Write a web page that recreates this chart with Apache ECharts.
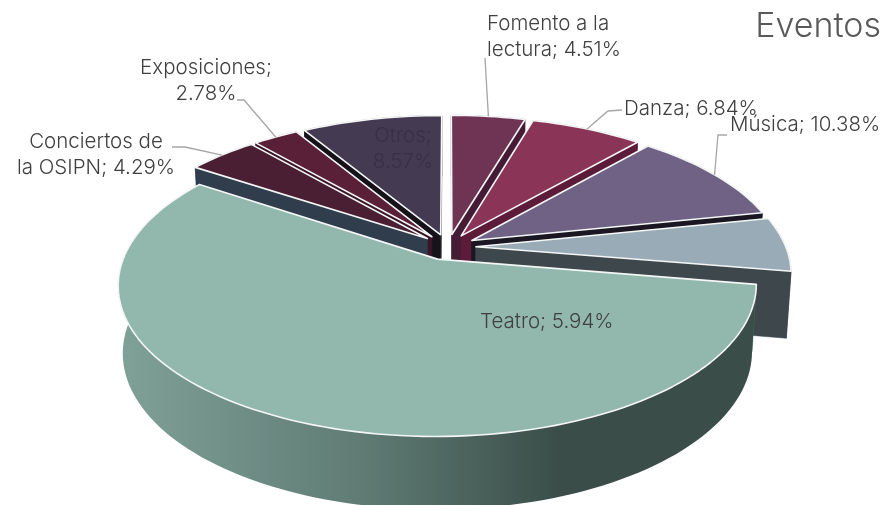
<!DOCTYPE html>
<html>
<head>
<meta charset="utf-8">
<style>html,body{margin:0;padding:0;background:#fff}#c{width:883px;height:505px}</style>
<script src="https://cdn.jsdelivr.net/npm/echarts@6/dist/echarts.min.js"></script>
</head>
<body>
<div id="c"></div>
<script>
// Data, clockwise from 12 o'clock
const categories = ['Fomento a la lectura','Danza','Música','Teatro','','Conciertos de la OSIPN','Exposiciones','Otros'];
const values     = [4.51, 6.84, 10.38, 5.94, 56.69, 4.29, 2.78, 8.57];
const topColors  = ['#6f3354','#8a3558','#6f6285','#9aabb8','#92b8ae','#4a1f33','#5a2037','#443a52'];
const wallColors = ['#451c36','#5c1b38','#1a1622','#3d474c','#4f6a63','#2f3d4d','#3a1526','#15121a'];
const paintOrder = [7,6,5,0,1,2,3,4];
const title = 'Eventos';

// Labels: text lines, placement and leader bend
const labelLines = {
  0: ['Fomento a la','lectura; 4.51%'],
  1: ['Danza; 6.84%'],
  2: ['Música; 10.38%'],
  3: ['Teatro; 5.94%'],
  5: ['Conciertos de','la OSIPN; 4.29%'],
  6: ['Exposiciones;','2.78%'],
  7: ['Otros;','8.57%']
};
const labelPlace = {
  0: {x:487, y:24, align:'left', fill:'#404040'},
  1: {x:624, y:109, align:'left', fill:'#404040'},
  2: {x:730, y:125, align:'left', fill:'#404040'},
  3: {x:480, y:322, align:'left', fill:'#404040'},
  5: {x:96,  y:142, align:'center', fill:'#404040'},
  6: {x:206, y:68,  align:'center', fill:'#404040'},
  7: {x:403, y:136, align:'center', fill:'#3a3046'}
};
const leaderBends = {
  0: [[485,58]],
  1: [[622,110],[608,111]],
  2: [[727,135],[718,135]],
  5: [[172,147],[185,147]],
  6: [[237,100],[244,100]]
};

// Projection of the tilted pie
const CX = 448, CY = 247, RX = 310, RY = 143, K = 0.168, EXPLODE = 0.09, DEPTH = 66, BASE_SCALE = 0.986;
const total = values.reduce((a,b)=>a+b,0);
function project(x, y, low) {
  const s = 1/(1+K*y);
  const px = RX*x*s, py = RY*y*s;
  if (!low) return [CX+px, CY-py];
  return [CX+px*BASE_SCALE, CY-py+DEPTH*Math.sqrt(s)];
}
function sliceGeom(i) {
  let before = 0; for (let j=0;j<i;j++) before += values[j];
  const a0 = before/total*2*Math.PI, a1 = (before+values[i])/total*2*Math.PI, am = (a0+a1)/2;
  const ox = Math.sin(am)*EXPLODE, oy = Math.cos(am)*EXPLODE;
  const n = Math.max(4, Math.ceil((a1-a0)/0.03));
  const top = [], low = [];
  for (let k=0;k<=n;k++){
    const a = a0+(a1-a0)*k/n;
    const x = ox+Math.sin(a), y = oy+Math.cos(a);
    top.push(project(x,y,false)); low.push(project(x,y,true));
  }
  return {top, low, apexT:project(ox,oy,false), apexL:project(ox,oy,true), am, ox, oy};
}
const bigWall = new echarts.graphic.LinearGradient(125,0,560,0,[
  {offset:0,color:'#7fa097'},{offset:.55,color:'#5f7b74'},{offset:1,color:'#3a4d49'}],true);

function renderItem(params, api) {
  const i = api.value(0);
  const g = sliceGeom(i);
  const wall = i===4 ? bigWall : wallColors[i];
  const last = g.top.length-1;
  const poly = (pts, fill, stroke, lw) => ({type:'polygon', shape:{points:pts}, style:{fill, stroke:stroke||fill, lineWidth:lw||0.5, lineJoin:'round'}});
  return {type:'group', children:[
    poly([g.apexT,g.top[0],g.low[0],g.apexL], wallColors[i]),
    poly([g.apexT,g.top[last],g.low[last],g.apexL], wallColors[i]),
    poly(g.top.concat(g.low.slice().reverse()), wall, i===4?'rgba(0,0,0,0)':wall),
    poly([g.apexT].concat(g.top), topColors[i], '#f4f6f6', 1.6)
  ]};
}

const FONT = 'Inter, "Noto Sans", sans-serif';
const graphics = [];
Object.keys(labelLines).forEach(k=>{
  const i = +k, p = labelPlace[i];
  labelLines[i].forEach((line,n)=>{
    graphics.push({type:'text', z:10, style:{text:line, x:p.x, y:p.y+n*25.5, textAlign:p.align, textVerticalAlign:'middle', font:'300 20.5px '+FONT, fill:p.fill}});
  });
  if (leaderBends[i]) {
    const g = sliceGeom(i);
    const mid = project(g.ox+Math.sin(g.am), g.oy+Math.cos(g.am), false);
    graphics.push({type:'polyline', z:9, shape:{points:leaderBends[i].concat([mid])}, style:{stroke:'#a6a6a6', lineWidth:1.3, fill:'none'}});
  }
});
graphics.push({type:'text', z:10, style:{text:title, x:881, y:27, textAlign:'right', textVerticalAlign:'middle', font:'300 34px '+FONT, fill:'#595959'}});

const chart = echarts.init(document.getElementById('c'), null, {renderer:'canvas'});
chart.setOption({
  animation:false,
  backgroundColor:'#fff',
  graphic:graphics,
  series:[{
    type:'custom',
    coordinateSystem:'none',
    renderItem,
    clip:false,
    silent:true,
    data:paintOrder.map(i=>[i, values[i]]),
    encode:{value:1}
  }]
});
</script>
</body>
</html>
